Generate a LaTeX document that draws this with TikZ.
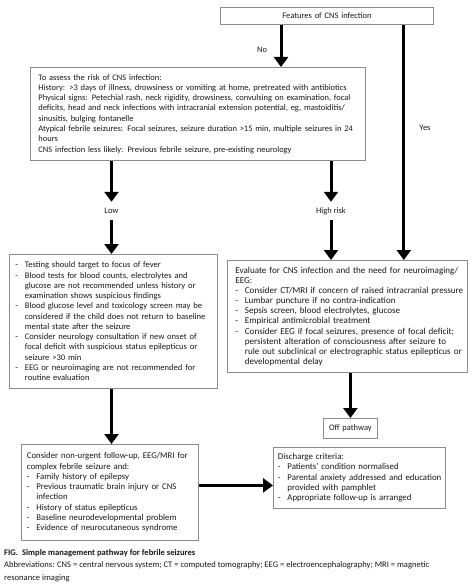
\documentclass[tikz,border=0pt]{standalone}
\usepackage{fontspec}
\setmainfont{Carlito}
\usetikzlibrary{arrows.meta,calc}
\newcommand\fs{\fontsize{8.5}{10.3}\selectfont}
\newcommand\capfs{\fontsize{8.6}{12.5}\selectfont}
\newcommand\LL[1]{\mbox{#1}}
\newcommand\bul{\makebox[9.5bp][l]{-}}
\newcommand\ind{\hspace*{9.5bp}}
\tikzset{
  box/.style={draw=black!45, line width=0.8bp, anchor=north west, inner xsep=6bp, inner ysep=0pt,
    align=left, font=\fs, text=black!90},
  lbl/.style={font=\fs, text=black!90, inner sep=0pt, minimum height=18bp},
  arr/.style={line width=3bp, -{Triangle[width=14bp,length=10bp]}},
  captxt/.style={anchor=west, font=\capfs, text=black!90, inner sep=0pt}
}
\begin{document}
\begin{tikzpicture}[x=1bp,y=-1bp]
\useasboundingbox[fill=white] (0,0) rectangle (474,584);

\node[box, align=center, minimum width=213bp, minimum height=17bp, text width=201bp] (feat) at (220,7) {Features of CNS infection};

\node[box, inner xsep=8bp, minimum width=335bp, minimum height=93bp, text width=319bp] (risk) at (30,67) {%
\LL{To assess the risk of CNS infection:}\\
\LL{History: >3 days of illness, drowsiness or vomiting at home, pretreated with antibiotics}\\
\LL{Physical signs: Petechial rash, neck rigidity, drowsiness, convulsing on examination, focal}\\
\LL{deficits, head and neck infections with intracranial extension potential, eg, mastoiditis/}\\
\LL{sinusitis, bulging fontanelle}\\
\LL{Atypical febrile seizures: Focal seizures, seizure duration >15 min, multiple seizures in 24}\\
\LL{hours}\\
\LL{CNS infection less likely: Previous febrile seizure, pre-existing neurology}};

\node[lbl] (lowlbl) at (111.5,211) {Low};
\node[lbl] (hrlbl) at (331,211) {High risk};
\node[lbl] (nolbl) at (262,50) {No};
\node[lbl] (yeslbl) at (425,128) {Yes};

\node[box, font=\fontsize{8.6}{10.3}\selectfont, minimum width=208bp, minimum height=134bp, text width=196bp] (low) at (9,254) {%
\LL{\bul Testing should target to focus of fever}\\
\LL{\bul Blood tests for blood counts, electrolytes and}\\
\LL{\ind glucose are not recommended unless history or}\\
\LL{\ind examination shows suspicious findings}\\
\LL{\bul Blood glucose level and toxicology screen may be}\\
\LL{\ind considered if the child does not return to baseline}\\
\LL{\ind mental state after the seizure}\\
\LL{\bul Consider neurology consultation if new onset of}\\
\LL{\ind focal deficit with suspicious status epilepticus or}\\
\LL{\ind seizure >30 min}\\
\LL{\bul EEG or neuroimaging are not recommended for}\\
\LL{\ind routine evaluation}};

\node[box, font=\fontsize{9.1}{10.2}\selectfont, inner xsep=8bp, minimum width=240bp, minimum height=112bp, text width=224bp] (eval) at (227,260) {%
\LL{Evaluate for CNS infection and the need for neuroimaging/}\\
\LL{EEG:}\\
\LL{\bul Consider CT/MRI if concern of raised intracranial pressure}\\
\LL{\bul Lumbar puncture if no contra-indication}\\
\LL{\bul Sepsis screen, blood electrolytes, glucose}\\
\LL{\bul Empirical antimicrobial treatment}\\
\LL{\bul Consider EEG if focal seizures, presence of focal deficit;}\\
\LL{\ind persistent alteration of consciousness after seizure to}\\
\LL{\ind rule out subclinical or electrographic status epilepticus or}\\
\LL{\ind developmental delay}};

\node[box, align=center, inner xsep=2bp, minimum width=54bp, minimum height=20bp, text width=50bp] (off) at (323,418) {Off pathway};

\node[box, font=\fontsize{8.8}{10.3}\selectfont, inner xsep=5.5bp, minimum width=177bp, minimum height=96bp, text width=166bp] (fu) at (21,444) {%
\LL{Consider non-urgent follow-up, EEG/MRI for}\\
\LL{complex febrile seizure and:}\\
\LL{\bul Family history of epilepsy}\\
\LL{\bul Previous traumatic brain injury or CNS}\\
\LL{\ind infection}\\
\LL{\bul History of status epilepticus}\\
\LL{\bul Baseline neurodevelopmental problem}\\
\LL{\bul Evidence of neurocutaneous syndrome}};

\node[box, font=\fontsize{8.9}{10.3}\selectfont, inner xsep=4.5bp, minimum width=172bp, minimum height=61bp, text width=163bp] (dis) at (273,447) {%
\LL{Discharge criteria:}\\
\LL{\bul Patients' condition normalised}\\
\LL{\bul Parental anxiety addressed and education}\\
\LL{\ind provided with pamphlet}\\
\LL{\bul Appropriate follow-up is arranged}};

% connectors
\coordinate (nostart) at ([xshift=61bp]feat.south west);
\draw[arr] (nostart) -- (nostart |- risk.north);
\coordinate (yesstart) at ([xshift=-30bp]feat.south east);
\draw[arr] (yesstart) -- (yesstart |- eval.north);
\draw[arr] (risk.south -| lowlbl.north) -- (lowlbl.north);
\draw[arr] (lowlbl.south) -- (lowlbl.south |- low.north);
\draw[arr] (risk.south -| hrlbl.north) -- (hrlbl.north);
\draw[arr] (hrlbl.south) -- (hrlbl.south |- eval.north);
\draw[arr] (low.south -| lowlbl.south) -- (fu.north -| lowlbl.south);
\draw[arr] (off.north |- eval.south) -- (off.north);
\coordinate (fuout) at ([yshift=7bp]fu.east);
\draw[arr] (fuout) -- (fuout -| dis.west);

% caption
\node[captxt] (cap1) at (4,553) {\textbf{FIG.\ \ Simple management pathway for febrile seizures}};
\node[captxt] (cap2) at (4,565.5) {Abbreviations: CNS = central nervous system; CT = computed tomography; EEG = electroencephalography; MRI = magnetic};
\node[captxt] (cap3) at (4,578) {resonance imaging};
\end{tikzpicture}
\end{document}
